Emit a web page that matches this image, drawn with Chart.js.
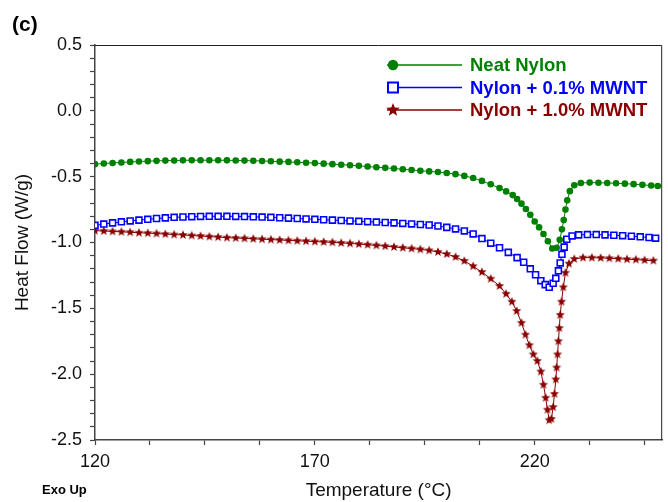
<!DOCTYPE html>
<html><head><meta charset="utf-8">
<script src="https://cdn.jsdelivr.net/npm/chart.js@4/dist/chart.umd.min.js"></script>
<style>html,body{margin:0;padding:0;background:#fff}#wrap{width:668px;height:502px;position:relative}</style>
</head><body><div id="wrap"><canvas id="c" width="668" height="502"></canvas></div>
<script>
const seriesNames = ['Neat Nylon', 'Nylon + 0.1% MWNT', 'Nylon + 1.0% MWNT'];

const neatTemp = [120,122,124,126,128,130,132,134,136,138,140,142,144,146,148,150,152,154,156,158,160,162,164,166,168,170,172,174,176,178,180,182,184,186,188,190,192,194,196,198,200,202,204,206,208,210,212,213.5,215,216,217,218,219,220,221,222,223,224,225,225.7,226.2,226.6,227,227.4,228,229,230.5,232.5,234.5,236.5,238.5,240.5,242.5,244.5,246.5,248];
const neatHeat = [-0.405,-0.400,-0.396,-0.392,-0.388,-0.385,-0.382,-0.380,-0.378,-0.377,-0.376,-0.375,-0.375,-0.375,-0.375,-0.376,-0.377,-0.378,-0.379,-0.381,-0.383,-0.386,-0.388,-0.391,-0.394,-0.397,-0.401,-0.405,-0.409,-0.413,-0.418,-0.423,-0.428,-0.433,-0.438,-0.444,-0.449,-0.455,-0.460,-0.465,-0.472,-0.481,-0.494,-0.510,-0.532,-0.558,-0.587,-0.612,-0.640,-0.670,-0.705,-0.745,-0.790,-0.840,-0.885,-0.935,-0.990,-1.045,-1.040,-0.980,-0.900,-0.830,-0.750,-0.680,-0.610,-0.565,-0.548,-0.545,-0.546,-0.548,-0.550,-0.553,-0.557,-0.562,-0.567,-0.571];

const mwnt01Temp = [120,122,124,126,128,130,132,134,136,138,140,142,144,146,148,150,152,154,156,158,160,162,164,166,168,170,172,174,176,178,180,182,184,186,188,190,192,194,196,198,200,202,204,206,208,210,212,214,216,217.5,219,220.2,221.4,222.4,223.3,224.2,224.8,225.4,225.8,226.2,226.7,227.3,228.5,230,232,234,236,238,240,242,244,246,247.5];
const mwnt01Heat = [-0.870,-0.860,-0.851,-0.843,-0.836,-0.830,-0.824,-0.818,-0.813,-0.809,-0.806,-0.804,-0.802,-0.801,-0.801,-0.801,-0.802,-0.803,-0.805,-0.807,-0.809,-0.812,-0.815,-0.818,-0.821,-0.824,-0.827,-0.830,-0.833,-0.836,-0.839,-0.842,-0.845,-0.848,-0.851,-0.855,-0.859,-0.863,-0.867,-0.875,-0.885,-0.897,-0.912,-0.935,-0.970,-1.005,-1.040,-1.075,-1.115,-1.150,-1.200,-1.245,-1.290,-1.320,-1.340,-1.310,-1.272,-1.215,-1.155,-1.090,-1.035,-0.975,-0.950,-0.942,-0.940,-0.940,-0.942,-0.945,-0.948,-0.952,-0.957,-0.962,-0.967];

const mwnt10Temp = [120,122,124,126,128,130,132,134,136,138,140,142,144,146,148,150,152,154,156,158,160,162,164,166,168,170,172,174,176,178,180,182,184,186,188,190,192,194,196,198,200,202,204,206,208,210,212,213.5,214.8,215.9,217,217.9,218.8,219.7,220.6,221.4,222,222.5,222.9,223.3,223.8,224.2,224.5,224.8,225.0,225.2,225.4,225.6,225.8,226.1,226.5,227,227.8,229,231,233,235,237,239,241,243,245,247];
const mwnt10Heat = [-0.910,-0.913,-0.916,-0.919,-0.922,-0.926,-0.929,-0.932,-0.936,-0.940,-0.943,-0.947,-0.951,-0.955,-0.959,-0.963,-0.966,-0.969,-0.972,-0.975,-0.978,-0.981,-0.984,-0.987,-0.990,-0.993,-0.996,-0.999,-1.003,-1.007,-1.012,-1.017,-1.022,-1.028,-1.034,-1.040,-1.046,-1.052,-1.060,-1.072,-1.088,-1.110,-1.140,-1.180,-1.225,-1.275,-1.330,-1.390,-1.450,-1.520,-1.610,-1.700,-1.780,-1.850,-1.900,-1.980,-2.080,-2.180,-2.270,-2.350,-2.340,-2.250,-2.150,-2.040,-1.950,-1.850,-1.750,-1.650,-1.550,-1.450,-1.340,-1.230,-1.160,-1.125,-1.115,-1.115,-1.117,-1.120,-1.123,-1.127,-1.130,-1.134,-1.138];

const xMajorTicks = [120, 170, 220];
const xMinorStep = 12.5;
const yMajorTicks = [0.5, 0.0, -0.5, -1.0, -1.5, -2.0, -2.5];
const yMinorStep = 0.1;

const GREEN = '#008000', BLUE = '#0000ff', RED = '#880000';
const FONT = '"Liberation Sans", Arial, sans-serif';

function starCanvas(rOut, rIn, color) {
  const s = Math.ceil(rOut * 2 + 2);
  const cv = document.createElement('canvas');
  cv.width = s; cv.height = s;
  const g = cv.getContext('2d');
  g.fillStyle = color;
  g.beginPath();
  for (let i = 0; i < 10; i++) {
    const r = i % 2 ? rIn : rOut;
    const a = -Math.PI / 2 + i * Math.PI / 5;
    const px = s / 2 + r * Math.cos(a), py = s / 2 + r * Math.sin(a);
    i ? g.lineTo(px, py) : g.moveTo(px, py);
  }
  g.closePath(); g.fill();
  return cv;
}
const starSmall = starCanvas(4.8, 2.1, RED);
const starBig = starCanvas(7, 3, RED);

function pts(t, v) { return t.map((x, i) => ({x: x, y: v[i]})); }

const xMin = 120, xMax = 249, yMin = -2.5, yMax = 0.5;

const decor = {
  id: 'decor',
  afterDraw(chart) {
    const ctx = chart.ctx, a = chart.chartArea;
    ctx.save();
    ctx.strokeStyle = '#222'; ctx.lineWidth = 1;
    ctx.beginPath();
    ctx.moveTo(a.left, a.top + 0.5); ctx.lineTo(a.right - 0.5, a.top + 0.5); ctx.lineTo(a.right - 0.5, a.bottom);
    ctx.stroke();
    // legend
    const lx0 = a.left + 292, lx1 = a.left + 367, tx = a.left + 375;
    const rows = [a.top + 20, a.top + 42.5, a.top + 65];
    const cols = [GREEN, BLUE, RED];
    ctx.font = 'bold 18.5px ' + FONT;
    ctx.textBaseline = 'middle'; ctx.textAlign = 'left';
    rows.forEach((y, i) => {
      ctx.strokeStyle = cols[i]; ctx.lineWidth = 1.3;
      ctx.beginPath(); ctx.moveTo(lx0, y); ctx.lineTo(lx1, y); ctx.stroke();
      const mx = lx0 + 6;
      if (i === 0) {
        ctx.fillStyle = GREEN; ctx.beginPath(); ctx.arc(mx, y, 5.2, 0, Math.PI * 2); ctx.fill();
      } else if (i === 1) {
        ctx.fillStyle = '#fff'; ctx.fillRect(mx - 5, y - 5, 10, 10);
        ctx.strokeStyle = BLUE; ctx.lineWidth = 2; ctx.strokeRect(mx - 5, y - 5, 10, 10);
      } else {
        ctx.drawImage(starBig, mx - starBig.width / 2, y - starBig.height / 2);
      }
      ctx.fillStyle = cols[i];
      ctx.fillText(seriesNames[i], tx, y + 1);
    });
    ctx.fillStyle = '#000';
    ctx.font = 'bold 21px ' + FONT;
    ctx.fillText('(c)', 12, 25);
    ctx.font = 'bold 13px ' + FONT;
    ctx.fillText('Exo Up', 42, 490);
    ctx.restore();
  }
};

new Chart(document.getElementById('c'), {
  type: 'line',
  data: {
    datasets: [
      {label: seriesNames[0], data: pts(neatTemp, neatHeat), borderColor: GREEN, backgroundColor: GREEN,
       borderWidth: 1, pointStyle: 'circle', pointRadius: 3.3, pointBorderWidth: 0, pointBackgroundColor: GREEN, tension: 0},
      {label: seriesNames[1], data: pts(mwnt01Temp, mwnt01Heat), borderColor: BLUE, backgroundColor: '#fff',
       borderWidth: 1, pointStyle: 'rect', pointRadius: 4.2, pointBorderWidth: 1.6, pointBackgroundColor: '#fff', pointBorderColor: BLUE, tension: 0},
      {label: seriesNames[2], data: pts(mwnt10Temp, mwnt10Heat), borderColor: RED, backgroundColor: RED,
       borderWidth: 1, pointStyle: starSmall, pointRadius: 4, tension: 0}
    ]
  },
  options: {
    responsive: false, animation: false, devicePixelRatio: 1,
    layout: {padding: {left: 0, top: 45, right: 5, bottom: 0}},
    plugins: {legend: {display: false}, tooltip: {enabled: false}},
    scales: {
      x: {
        type: 'linear', min: xMin, max: xMax,
        afterFit(s) { s.height = 62; },
        afterBuildTicks(s) {
          const t = [];
          for (let v = xMin; v <= xMax + 1e-9; v += xMinorStep) t.push({value: v});
          s.ticks = t;
        },
        grid: {display: true, drawOnChartArea: false, drawTicks: true, tickLength: 5, tickColor: '#444', tickWidth: 1.2},
        border: {display: true, color: '#444', width: 1.5},
        ticks: {autoSkip: false, maxRotation: 0, padding: 6, color: '#111', font: {size: 18, family: FONT},
          callback: v => xMajorTicks.some(m => Math.abs(m - v) < 1e-6) ? String(v) : ''},
        title: {display: true, text: 'Temperature (°C)', color: '#111', font: {size: 19, family: FONT}, padding: {top: 0, bottom: 0}}
      },
      y: {
        type: 'linear', min: yMin, max: yMax,
        afterFit(s) { s.width = 95; },
        afterBuildTicks(s) {
          const t = [];
          const n = Math.round((yMax - yMin) / yMinorStep);
          for (let i = 0; i <= n; i++) t.push({value: Math.round((yMin + i * yMinorStep) * 10) / 10});
          s.ticks = t;
        },
        grid: {display: true, drawOnChartArea: false, drawTicks: true, tickLength: 5, tickColor: '#444', tickWidth: 1.2},
        border: {display: true, color: '#444', width: 1.5},
        ticks: {autoSkip: false, padding: 8, color: '#111', font: {size: 18, family: FONT},
          callback: v => yMajorTicks.some(m => Math.abs(m - v) < 1e-6) ? v.toFixed(1) : ''},
        title: {display: true, text: 'Heat Flow (W/g)', color: '#111', font: {size: 19, family: FONT}, padding: {top: 11, bottom: 0}}
      }
    }
  },
  plugins: [decor]
});
</script></body></html>
